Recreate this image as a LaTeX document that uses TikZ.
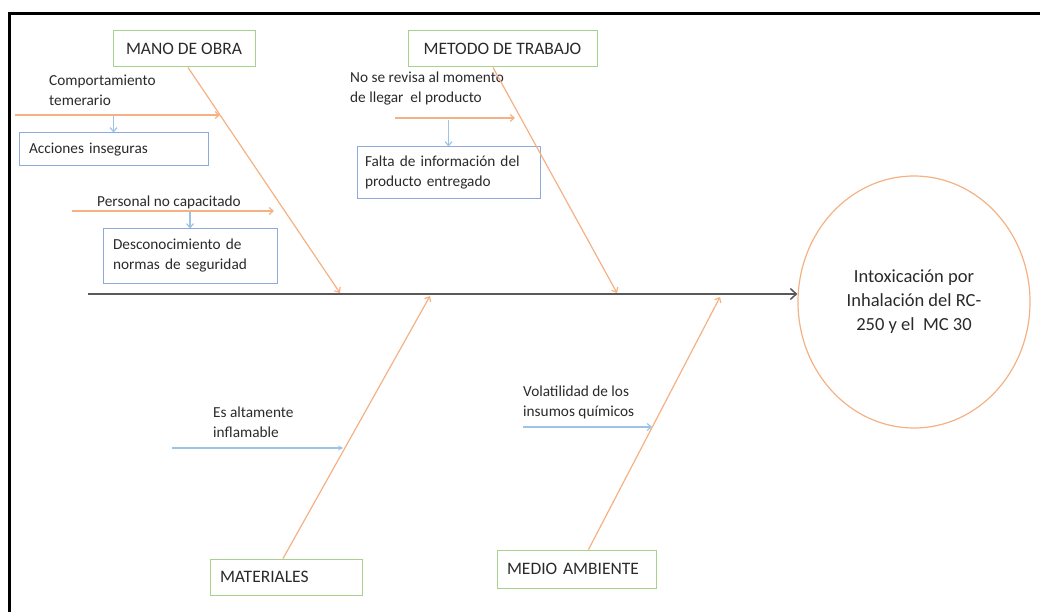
\documentclass[tikz,border=0pt]{standalone}
\usepackage{fontspec}
\setmainfont{Carlito}
\usetikzlibrary{arrows.meta,calc,shapes.geometric}
\definecolor{orng}{HTML}{F4B183}
\definecolor{bluel}{HTML}{9DC3E6}
\definecolor{bluebox}{HTML}{8EA9DB}
\definecolor{grn}{HTML}{A9D18E}
\definecolor{spinec}{HTML}{595959}
\definecolor{txt}{HTML}{2A2A2A}
\begin{document}
\begin{tikzpicture}[x=1pt,y=-1pt,
  catbox/.style={draw=grn, line width=1pt, minimum height=36pt, inner xsep=10pt, inner ysep=0pt,
    font=\fontsize{17.5}{20}\selectfont, text=txt},
  subbox/.style={draw=bluebox, line width=1pt, inner xsep=10pt, inner ysep=0pt, align=left,
    font=\fontsize{15.3}{20}\selectfont, text=txt},
  lbl/.style={font=\fontsize{15.3}{20}\selectfont, align=left, inner sep=0pt, text=txt, anchor=west},
  bone/.style={draw=orng, line width=1.2pt, -{Straight Barb[length=4pt,width=7pt]}},
  twig/.style={draw=orng, line width=1.2pt, -{Straight Barb[length=4pt,width=7pt]}},
  bluearr/.style={draw=bluel, line width=1.2pt, -{Straight Barb[length=4pt,width=7pt]}},
  bluetwig/.style={draw=bluel, line width=1.2pt, -{Stealth[length=5pt,width=5pt]}},
  spine/.style={draw=spinec, line width=1.5pt, -{Straight Barb[length=6pt,width=11pt]}}
]
\useasboundingbox (0,0) rectangle (1040,612);
% frame
\draw[line width=3pt, black] (9.5,612) -- (9.5,13.5) -- (1040,13.5);

% effect
\node[ellipse, draw=orng, line width=1.2pt, minimum width=232pt, minimum height=252pt, inner sep=0pt,
  align=center, font=\fontsize{18.5}{24}\selectfont, text=txt] (effect) at (914,302)
  {Intoxicación por\\Inhalación del RC-\\250 y el \ MC 30};

% category boxes
\node[catbox, minimum width=142pt] (mano) at (184,49) {MANO DE OBRA};
\node[catbox, minimum width=189pt] (metodo) at (502.5,49) {METODO DE TRABAJO};
\node[catbox, text width=132pt, align=left] (materiales) at (286,577) {MATERIALES};
\node[catbox, text width=139pt, align=left, minimum height=38pt] (medio) at (576.5,569) {MEDIO AMBIENTE};

% sub boxes
\node[subbox, text width=169pt, minimum height=33pt] (acciones) at (113.5,149.5) {Acciones inseguras};
\node[subbox, text width=154pt, minimum height=54pt] (descon) at (190,256) {Desconocimiento de\\normas de seguridad};
\node[subbox, inner xsep=8pt, text width=167pt, minimum height=52pt] (falta) at (448.5,173) {Falta de información del\\producto entregado};

% labels
\node[lbl] (comp) at (49,90) {Comportamiento\\temerario};
\node[lbl] (personal) at (97,202) {Personal no capacitado};
\node[lbl] (norevisa) at (350,89) {No se revisa al momento\\de llegar \ el producto};
\node[lbl] (esalta) at (213,422) {Es altamente\\inflamable};
\node[lbl] (volat) at (523,402) {Volatilidad de los\\insumos químicos};

% coordinates
\coordinate (spineS) at (88,294);
\coordinate (manoE) at (340,293);
\coordinate (metodoE) at (617,293);
\coordinate (materialesE) at (430,296);
\coordinate (medioE) at (720,297);
\coordinate (compS) at (15,115);
\coordinate (compE) at (220,115);
\coordinate (persS) at (72,211);
\coordinate (persE) at (274,211);
\coordinate (norS) at (395,118);
\coordinate (norE) at (515,118);
\coordinate (esS) at (172,448);
\coordinate (esE) at (343,448);
\coordinate (volS) at (523,427);
\coordinate (volE) at (652,427);

% spine
\draw[spine] (spineS) -- (spineS -| effect.west);

% bones
\draw[bone] ($(mano.south)+(4,0)$) -- (manoE);
\draw[bone] ($(metodo.south)+(-9.5,0)$) -- (metodoE);
\draw[bone] ($(materiales.north)+(-3,0)$) -- (materialesE);
\draw[bone] ($(medio.north)+(12,0)$) -- (medioE);

% twigs
\draw[twig] (compS) -- (compE);
\draw[twig] (persS) -- (persE);
\draw[twig] (norS) -- (norE);
\draw[bluetwig] (esS) -- (esE);
\draw[bluearr] (volS) -- (volE);

% blue down arrows
\draw[bluearr] (acciones.north |- compS) ++(0,1) -- (acciones.north);
\draw[bluearr] (descon.north |- persS) ++(0,1) -- (descon.north);
\draw[bluearr] (falta.north |- norS) ++(0,2) -- (falta.north);
\end{tikzpicture}
\end{document}
